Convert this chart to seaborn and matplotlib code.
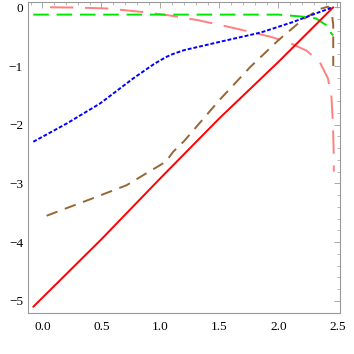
import numpy as np
import matplotlib
matplotlib.use("Agg")
import matplotlib.pyplot as plt
import seaborn as sns
from matplotlib.ticker import MultipleLocator

# values
red_x = [-0.078, 0.5, 1.0, 1.5, 2.0, 2.465]
red_y = [-5.10, -3.95, -2.91, -1.89, -0.93, 0.0]

blue_x = [-0.078, 0.205, 0.487, 0.77, 0.95, 1.05, 1.1, 1.2, 1.5, 1.85, 2.125, 2.35, 2.465]
blue_y = [-2.29, -1.98, -1.64, -1.21, -0.96, -0.845, -0.80, -0.73, -0.59, -0.43, -0.25, -0.08, 0.0]

green_x = [-0.078, 0.5, 1.0, 1.5, 2.0, 2.21, 2.32, 2.41, 2.45, 2.465]
green_y = [-0.125, -0.125, -0.125, -0.125, -0.125, -0.16, -0.19, -0.31, -0.45, -0.48]

pink_x = [0.064, 0.3, 0.544, 0.85, 1.08, 1.32, 1.55, 1.785, 1.94, 2.1, 2.24, 2.35,
          2.42, 2.45, 2.463, 2.468, 2.47]
pink_y = [0.0, -0.005, -0.02, -0.08, -0.14, -0.22, -0.32, -0.43, -0.505, -0.61, -0.74,
          -0.93, -1.21, -1.53, -2.0, -2.4, -2.8]

brown_x = [0.035, 0.205, 0.43, 0.713, 0.87, 0.996, 1.05, 1.108, 1.2, 1.5, 1.76, 2.0,
           2.2, 2.35, 2.42, 2.45, 2.465, 2.465]
brown_y = [-3.55, -3.42, -3.25, -3.03, -2.84, -2.69, -2.62, -2.46, -2.28, -1.58, -1.02,
           -0.56, -0.22, -0.03, 0.01, -0.05, -0.3, -1.0]

sns.set_style("white")
plt.rcParams['font.family'] = ['Liberation Serif', 'DejaVu Serif']

fig = plt.figure(figsize=(3.54, 3.54), dpi=100)
ax = fig.add_axes([0.079, 0.117, 0.881, 0.878])

lw = 1.4
sns.lineplot(x=pink_x, y=pink_y, sort=False, estimator=None, ax=ax,
             color=(1.0, 0.5, 0.5), lw=lw, linestyle=(0, (12, 6)))
sns.lineplot(x=green_x, y=green_y, sort=False, estimator=None, ax=ax,
             color=(0.0, 0.9, 0.0), lw=lw, linestyle=(0, (8, 4)))
sns.lineplot(x=brown_x, y=brown_y, sort=False, estimator=None, ax=ax,
             color=(0.6, 0.4, 0.2), lw=lw, linestyle=(0, (6, 4)))
sns.lineplot(x=blue_x, y=blue_y, sort=False, estimator=None, ax=ax,
             color=(0.0, 0.0, 1.0), lw=lw, linestyle=(0, (2, 1)))
sns.lineplot(x=red_x, y=red_y, sort=False, estimator=None, ax=ax,
             color=(1.0, 0.0, 0.0), lw=lw)

ax.xaxis.set_major_locator(MultipleLocator(0.5))
ax.xaxis.set_minor_locator(MultipleLocator(0.1))
ax.yaxis.set_major_locator(MultipleLocator(1))
ax.yaxis.set_minor_locator(MultipleLocator(0.2))
ax.set_xlim(-0.123, 2.521)
ax.set_ylim(-5.199, 0.094)
ax.set_xticks([0.0, 0.5, 1.0, 1.5, 2.0, 2.5])
ax.set_xticklabels(["0.0", "0.5", "1.0", "1.5", "2.0", "2.5"])
ax.set_yticks([-5, -4, -3, -2, -1, 0])
ax.set_yticklabels(["\u22125", "\u22124", "\u22123", "\u22122", "\u22121", "0"])
ax.set_xlim(-0.123, 2.521)
ax.set_ylim(-5.199, 0.094)

for s in ax.spines.values():
    s.set_color("#999999")
    s.set_linewidth(0.8)
ax.tick_params(which="both", direction="in", top=True, right=True, colors="#999999",
               labelcolor="black", labelsize=9.5)
ax.tick_params(which="major", length=4, width=0.6)
ax.tick_params(which="minor", length=2, width=0.5)
ax.tick_params(axis="x", pad=6)

fig.savefig("out.png", dpi=100)
